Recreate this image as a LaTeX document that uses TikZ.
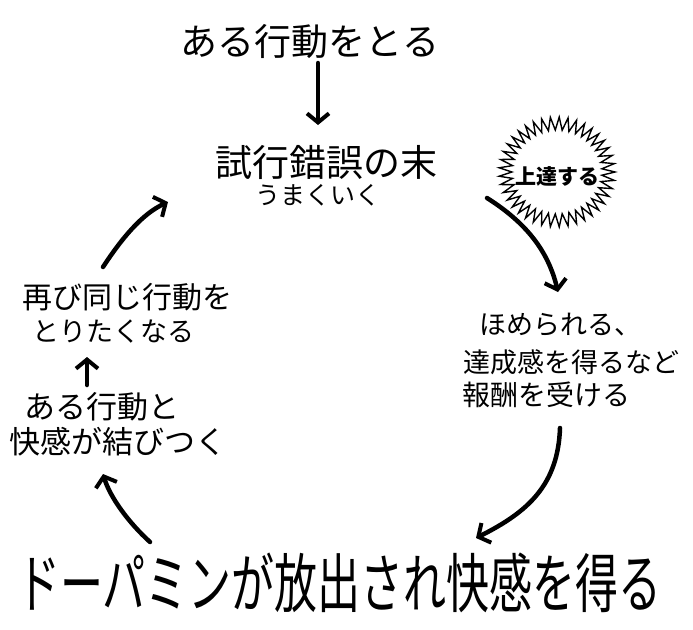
\documentclass[tikz,border=0pt]{standalone}
\usepackage{fontspec}
\usepackage{graphicx}
\newfontfamily\cjk{Noto Sans CJK JP}
\usetikzlibrary{arrows.meta}
\tikzset{
  lbl/.style={inner sep=0pt, font=\cjk\fontsize{#1}{#1}\selectfont},
  lbl/.default=30,
  arr/.style={line width=4.5pt, line cap=round, line join=round,
    -{Straight Barb[length=9pt,width=22pt,line width=4pt]}},
}
\begin{document}
\begin{tikzpicture}[x=1pt,y=-1pt]
\useasboundingbox (0,0) rectangle (693,629);
% texts
\node[lbl=37] (top) at (310,42) {ある行動をとる};
\node[lbl=37] (tr1) at (326,162) {試行錯誤の末};
\node[lbl=25] (tr2) at (318,195) {うまくいく};
\node[lbl=27, anchor=west] (r1) at (479,325) {ほめられる、};
\node[lbl=27, anchor=west] (r2) at (463,362) {達成感を得るなど};
\node[lbl=28, anchor=west] (r3) at (462,395) {報酬を受ける};
\node[lbl=30, anchor=west] (l1) at (22,297) {再び同じ行動を};
\node[lbl=27, anchor=west] (l2) at (32,332) {とりたくなる};
\node[lbl=31, anchor=west] (l3) at (24,407) {ある行動と};
\node[lbl=31, anchor=west] (l4) at (9,442) {快感が結びつく};
\node[lbl=43, anchor=west] (bot) at (17,583) {\scalebox{1}[1.5]{ドーパミンが放出され快感を得る}};
% starburst
\draw[line width=1.4pt, line join=miter, shift={(557,172)}]
  (58,0) \foreach \k in {0,...,40}{
    -- ({45*cos((\k+0.5)*360/41)},{42*sin((\k+0.5)*360/41)})
    -- ({58*cos((\k+1)*360/41)},{55*sin((\k+1)*360/41)}) } -- cycle;
\node[lbl=21, font=\cjk\bfseries\fontsize{21}{21}\selectfont] (burst) at (557,176) {上達する};
% arrow endpoints
\coordinate (a1s) at (318,63);  \coordinate (a1e) at (318,125);
\coordinate (a2s) at (487,198); \coordinate (a2e) at (558,292);
\coordinate (a3s) at (560,428); \coordinate (a3e) at (476,538);
\coordinate (a4s) at (150,542); \coordinate (a4e) at (103,474);
\coordinate (a5s) at (87,385);  \coordinate (a5e) at (87,357);
\coordinate (a6s) at (103,267); \coordinate (a6e) at (168,202);
\draw[arr] (a1s) -- (a1e);
\draw[arr] (a2s) .. controls (525,222) and (548,250) .. (a2e);
\draw[arr] (a3s) .. controls (558,485) and (528,512) .. (a3e);
\draw[arr] (a4s) .. controls (128,522) and (110,497) .. (a4e);
\draw[arr] (a5s) -- (a5e);
\draw[arr] (a6s) .. controls (122,238) and (142,214) .. (a6e);
\end{tikzpicture}
\end{document}
